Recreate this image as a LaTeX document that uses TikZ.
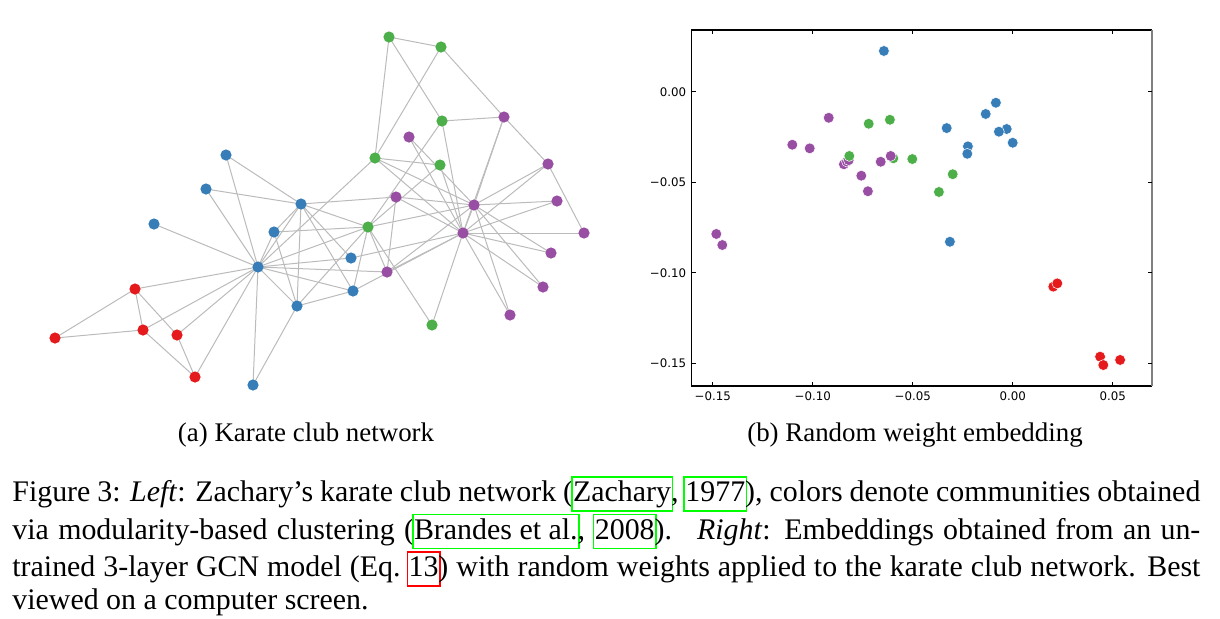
\documentclass[tikz,border=0pt]{standalone}
\usepackage{fontspec}
\setmainfont{Liberation Serif}
\newfontfamily\plotfont{DejaVu Sans}

\definecolor{cblue}{HTML}{377EB8}
\definecolor{cred}{HTML}{E41A1C}
\definecolor{cgreen}{HTML}{4DAF4A}
\definecolor{cpurple}{HTML}{984EA3}
\definecolor{edgegray}{HTML}{BBBBBB}
\definecolor{linkgreen}{HTML}{00FF00}
\definecolor{linkred}{HTML}{FF0000}

\pgfdeclarelayer{edges}
\pgfsetlayers{edges,main}

% coloured link frame, drawn without taking room
\newcommand\lnk[2]{\leavevmode\setbox0\hbox{#2}%
  \rlap{\kern-1pt{\color{#1}\fboxsep=0pt\fboxrule=0.75pt%
    \fbox{\rule[-4.3pt]{0pt}{16.3pt}\kern\dimexpr\wd0+0.6pt\relax}}}%
  \box0}

\tikzset{
  vtx/.style={circle, inner sep=0pt, minimum size=5.6pt, fill=#1},
  dot/.style={circle, inner sep=0pt, minimum size=5.4pt, fill=#1, draw=white, line width=0.25pt},
  link/.style={draw=edgegray, line width=0.5pt},
  ticklab/.style={inner sep=0pt, font=\plotfont\fontsize{5.9}{7}\selectfont},
  capt/.style={inner sep=0pt, font=\fontsize{14.95}{16.5}\selectfont},
  subcapt/.style={inner sep=0pt, font=\fontsize{13.45}{14.9}\selectfont},
}

\begin{document}
\begin{tikzpicture}[x=0.5pt, y=-0.5pt]
  \useasboundingbox (0,0) rectangle (1220,618);

  % (a) karate club graph
  \foreach \n/\x/\y/\c in {0/258/267/cblue, 1/301/204/cblue, 2/368/227/cgreen,
      3/297/306/cblue, 4/195/377/cred, 5/135/289/cred, 6/143/330/cred,
      7/274/232/cblue, 8/387/272/cpurple, 9/432/325/cgreen, 10/177/335/cred,
      11/154/224/cblue, 12/253/385/cblue, 13/353/291/cblue, 14/409/137/cpurple,
      15/557/201/cpurple, 16/55/338/cred, 17/226/155/cblue, 18/551/253/cpurple,
      19/351/258/cblue, 20/543/287/cpurple, 21/206/189/cblue, 22/510/315/cpurple,
      23/504/117/cpurple, 24/389/37/cgreen, 25/441/47/cgreen, 26/584/233/cpurple,
      27/442/121/cgreen, 28/440/165/cgreen, 29/548/164/cpurple, 30/396/197/cpurple,
      31/375/158/cgreen, 32/474/205/cpurple, 33/463/233/cpurple}
    \node[vtx=\c] (k\n) at (\x,\y) {};

  \begin{pgfonlayer}{edges}
  \foreach \a/\b in {0/1,0/2,0/3,0/4,0/5,0/6,0/7,0/8,0/10,0/11,0/12,0/13,0/17,0/19,0/21,0/31,
      1/2,1/3,1/7,1/13,1/17,1/19,1/21,1/30,
      2/3,2/7,2/8,2/9,2/13,2/27,2/28,2/32,
      3/7,3/12,3/13,4/6,4/10,5/6,5/10,5/16,6/16,
      8/30,8/32,8/33,9/33,13/33,14/32,14/33,15/32,15/33,18/32,18/33,19/33,
      20/32,20/33,22/32,22/33,23/25,23/27,23/29,23/32,23/33,24/25,24/27,24/31,
      25/31,26/29,26/33,27/33,28/31,28/33,29/32,29/33,30/32,30/33,31/32,31/33,32/33}
    \draw[link] (k\a.center) -- (k\b.center);
  \end{pgfonlayer}

  % (b) embedding scatter, data coordinates
  \begin{scope}[shift={(1012.7,91.7)}, x=1000pt, y=905pt]
    \coordinate (lo) at (-0.1605,-0.1626);
    \coordinate (hi) at (0.0695,0.0341);
    \draw[black, line width=0.75pt] (lo -| hi) -- (lo) -- (lo |- hi) -- (hi);
    \draw[gray, line width=0.8pt] (hi) -- (lo -| hi);

    \foreach \v/\t [count=\i] in {-0.15/−0.15, -0.10/−0.10, -0.05/−0.05, 0.00/0.00, 0.05/0.05} {
      \draw[line width=0.4pt] (\v,-0.1626) -- ++(0pt,2pt);
      \draw[line width=0.4pt] (\v,0.0341) -- ++(0pt,-2pt);
      \node[ticklab, anchor=north] (xt\i) at ([yshift=-2.8pt]\v,-0.1626) {\t};
    }
    \foreach \v/\t [count=\i] in {0.00/0.00, -0.05/−0.05, -0.10/−0.10, -0.15/−0.15} {
      \draw[line width=0.4pt] (-0.1605,\v) -- ++(2pt,0pt);
      \draw[line width=0.4pt] (0.0695,\v) -- ++(-2pt,0pt);
      \node[ticklab, anchor=east] (yt\i) at ([xshift=-2.6pt]-0.1605,\v) {\t};
    }

    \foreach \x/\y/\c [count=\i] in {
        -0.0920/-0.0144/cpurple, -0.1102/-0.0293/cpurple, -0.1015/-0.0313/cpurple,
        -0.0844/-0.0401/cpurple, -0.0829/-0.0386/cpurple, -0.0820/-0.0378/cpurple,
        -0.0660/-0.0387/cpurple, -0.0597/-0.0368/cgreen, -0.0610/-0.0355/cpurple,
        -0.0757/-0.0464/cpurple, -0.0724/-0.0550/cpurple,
        -0.1482/-0.0786/cpurple, -0.1452/-0.0847/cpurple,
        -0.0720/-0.0177/cgreen, -0.0614/-0.0155/cgreen, -0.0817/-0.0355/cgreen,
        -0.0502/-0.0372/cgreen, -0.0369/-0.0554/cgreen, -0.0300/-0.0456/cgreen,
        -0.0644/0.0225/cblue, -0.0330/-0.0201/cblue, -0.0224/-0.0302/cblue,
        -0.0227/-0.0343/cblue, -0.0135/-0.0123/cblue, -0.0084/-0.0061/cblue,
        -0.0030/-0.0206/cblue, -0.0069/-0.0221/cblue, 0.0000/-0.0282/cblue,
        -0.0314/-0.0829/cblue,
        0.0203/-0.1077/cred, 0.0223/-0.1059/cred, 0.0437/-0.1464/cred,
        0.0453/-0.1510/cred, 0.0537/-0.1482/cred}
      \node[dot=\c] (e\i) at (\x,\y) {};
  \end{scope}

  % captions
  \node[subcapt, anchor=base] (capa) at (306,441) {(a) Karate club network};
  \node[subcapt, anchor=base] (capb) at (915,441) {(b) Random weight embedding};

  \node[capt, anchor=base west, text width=594pt, align=justify] (fig) at (12,501.5)
    {Figure 3: \textit{Left}: Zachary’s karate club network (\lnk{linkgreen}{Zachary}, \lnk{linkgreen}{1977}), colors denote communities obtained\linebreak
     via modularity-based clustering (\lnk{linkgreen}{Brandes et al.}, \lnk{linkgreen}{2008}). \ \textit{Right}: Embeddings obtained from an un-\linebreak
     trained 3-layer GCN model (Eq.~\lnk{linkred}{13}) with random weights applied to the karate club network. Best\linebreak
     viewed on a computer screen.};
\end{tikzpicture}
\end{document}
